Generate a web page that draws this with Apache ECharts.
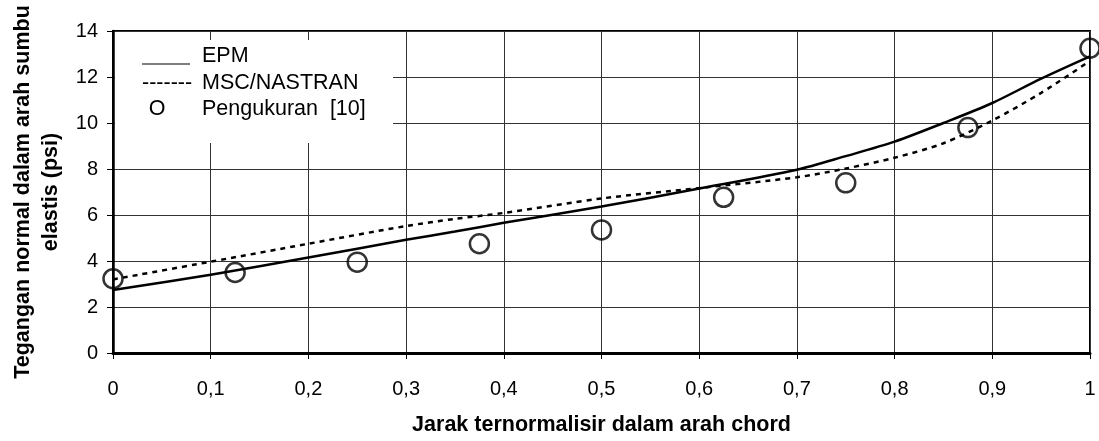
<!DOCTYPE html>
<html>
<head>
<meta charset="utf-8">
<script src="https://cdn.jsdelivr.net/npm/echarts@6/dist/echarts.min.js"></script>
<style>
html,body{margin:0;padding:0;background:#fff;}
#chart{width:1099px;height:441px;}
</style>
</head>
<body>
<div id="chart"></div>
<script>
// ---- data ----
const lineX = [0, 0.1, 0.2, 0.3, 0.35, 0.4, 0.5, 0.6, 0.7, 0.75, 0.8, 0.85, 0.9, 0.95, 1.0];
const epmY = [2.74, 3.40, 4.15, 4.92, 5.28, 5.66, 6.37, 7.15, 7.97, 8.56, 9.19, 10.0, 10.87, 11.93, 12.90];
const nastranY = [3.20, 3.97, 4.75, 5.52, 5.83, 6.09, 6.72, 7.17, 7.64, 8.02, 8.49, 9.12, 10.11, 11.31, 12.70];
const measX = [0, 0.125, 0.25, 0.375, 0.5, 0.625, 0.75, 0.875, 1.0];
const measY = [3.23, 3.50, 3.95, 4.75, 5.35, 6.77, 7.40, 9.80, 13.25];
const xTickLabels = ['0', '0,1', '0,2', '0,3', '0,4', '0,5', '0,6', '0,7', '0,8', '0,9', '1'];
const yTickLabels = ['0', '2', '4', '6', '8', '10', '12', '14'];
const seriesNames = ['EPM', 'MSC/NASTRAN', 'Pengukuran  [10]'];
const xTitle = 'Jarak ternormalisir dalam arah chord';
const yTitle = 'Tegangan normal dalam arah sumbu\nelastis (psi)';

const FONT = "'Liberation Sans', Arial, sans-serif";
const zip = (xs, ys) => xs.map((x, i) => [x, ys[i]]);

const chart = echarts.init(document.getElementById('chart'), null, {renderer: 'canvas'});
chart.setOption({
  animation: false,
  backgroundColor: '#fff',
  grid: {left: 113, right: 9, top: 31, bottom: 79, show: true, borderColor: '#000', borderWidth: 2, containLabel: false},
  xAxis: {
    type: 'value', min: 0, max: 1, interval: 0.1,
    name: xTitle, nameLocation: 'middle', nameGap: 61,
    nameTextStyle: {fontFamily: FONT, fontSize: 21.5, fontWeight: 'bold', color: '#000'},
    axisLine: {show: true, lineStyle: {color: '#000', width: 3}},
    axisTick: {show: true, length: 6, lineStyle: {color: '#000', width: 1}},
    axisLabel: {
      margin: 26, fontFamily: FONT, fontSize: 20, color: '#000',
      formatter: v => xTickLabels[Math.round(v * 10)]
    },
    splitLine: {show: true, lineStyle: {color: '#333', width: 1}}
  },
  yAxis: {
    type: 'value', min: 0, max: 14, interval: 2,
    name: yTitle, nameLocation: 'middle', nameGap: 48, nameRotate: 90,
    nameTextStyle: {fontFamily: FONT, fontSize: 21.5, fontWeight: 'bold', color: '#000', lineHeight: 28, align: 'center'},
    axisLine: {show: true, lineStyle: {color: '#000', width: 2.5}},
    axisTick: {show: true, length: 6, lineStyle: {color: '#000', width: 1}},
    axisLabel: {
      margin: 15, fontFamily: FONT, fontSize: 20, color: '#000',
      formatter: v => yTickLabels[Math.round(v / 2)]
    },
    splitLine: {show: true, lineStyle: {color: '#333', width: 1}}
  },
  series: [
    {
      name: seriesNames[0], type: 'line', data: zip(lineX, epmY), smooth: 0.3,
      symbol: 'none', lineStyle: {color: '#000', width: 2.5}, z: 3
    },
    {
      name: seriesNames[1], type: 'line', data: zip(lineX, nastranY), smooth: 0.3,
      symbol: 'none', lineStyle: {color: '#000', width: 2.5, type: [5, 5]}, z: 3
    },
    {
      name: seriesNames[2], type: 'scatter', data: zip(measX, measY), clip: false,
      symbol: 'circle', symbolSize: 19,
      itemStyle: {color: 'rgba(0,0,0,0)', borderColor: '#000', borderWidth: 2.5}, z: 4
    }
  ],
  graphic: [
    {type: 'rect', shape: {x: 115, y: 40, width: 278, height: 103}, style: {fill: '#fff'}, z: 10},
    {type: 'line', shape: {x1: 142, y1: 64, x2: 190, y2: 64}, style: {stroke: '#000', lineWidth: 1.2}, z: 11},
    {type: 'text', x: 142, y: 83, style: {text: '-------', font: '21.5px ' + FONT, fill: '#000', verticalAlign: 'middle'}, z: 11},
    {type: 'text', x: 157, y: 109, style: {text: 'O', font: '21.5px ' + FONT, fill: '#000', align: 'center', verticalAlign: 'middle'}, z: 11},
    {type: 'text', x: 202, y: 56, style: {text: seriesNames[0], font: '21.5px ' + FONT, fill: '#000', verticalAlign: 'middle'}, z: 11},
    {type: 'text', x: 202, y: 83, style: {text: seriesNames[1], font: '21.5px ' + FONT, fill: '#000', verticalAlign: 'middle'}, z: 11},
    {type: 'text', x: 202, y: 109, style: {text: seriesNames[2], font: '21.5px ' + FONT, fill: '#000', verticalAlign: 'middle'}, z: 11}
  ]
});
</script>
</body>
</html>
